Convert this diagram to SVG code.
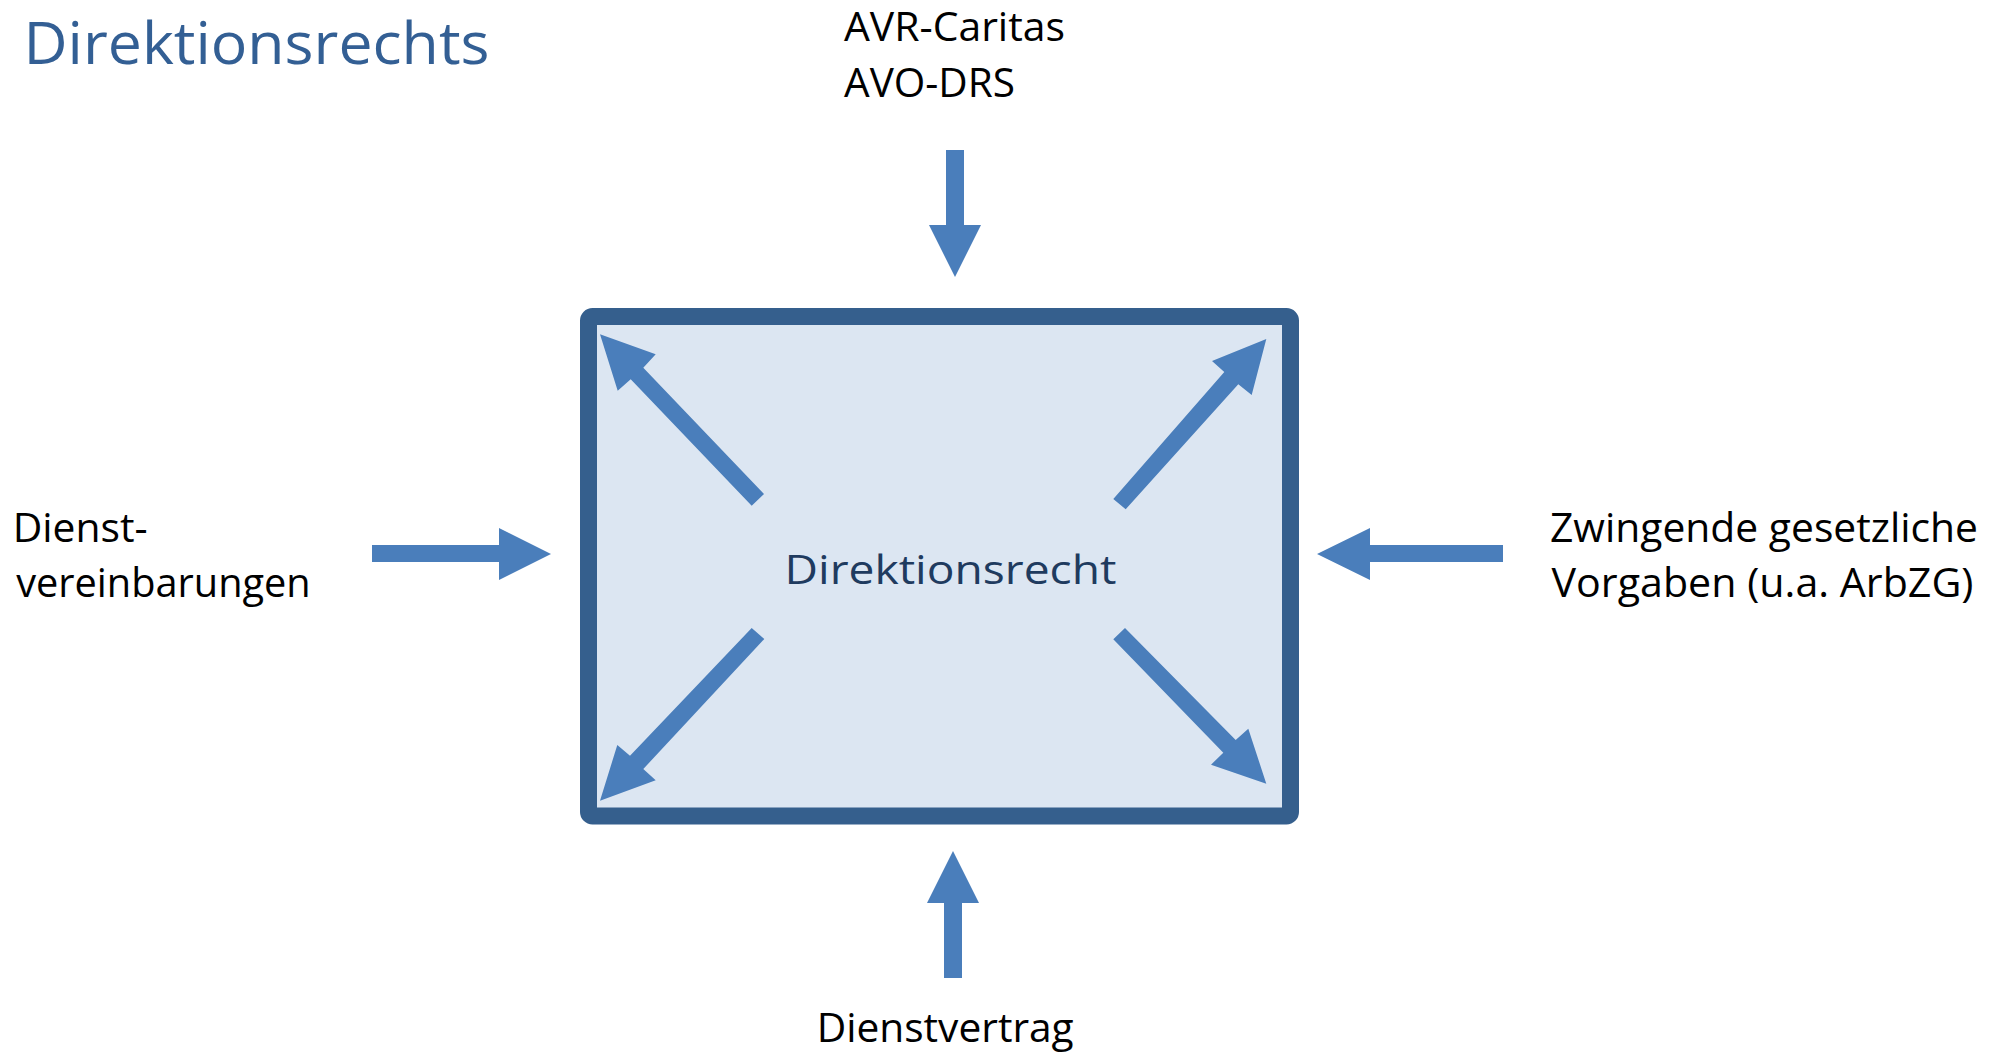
<svg xmlns="http://www.w3.org/2000/svg" width="2004" height="1052" viewBox="0 0 2004 1052">
<style>
.t{font-family:"Open Sans","Noto Sans","Liberation Sans",sans-serif;font-size:41px;fill:#000}
.title{font-family:"Open Sans","Noto Sans","Liberation Sans",sans-serif;font-size:58px;fill:#335f94}
.arr{fill:#4a7ebb}
</style>
<rect width="2004" height="1052" fill="#fff"/>
<text id="title" class="title" x="23.5" y="64" textLength="466" lengthAdjust="spacingAndGlyphs">Direktionsrechts</text>
<g id="center">
<rect x="588.5" y="316.5" width="702" height="499.5" rx="4" fill="#dce6f2" stroke="#355f8d" stroke-width="17"/>
<text class="t" x="784.5" y="583.5" style="fill:#1f3b5f" textLength="332" lengthAdjust="spacingAndGlyphs">Direktionsrecht</text>
</g>
<g id="top">
<text class="t" x="844" y="41" textLength="221" lengthAdjust="spacingAndGlyphs">AVR-Caritas</text>
<text class="t" x="844" y="97" textLength="171" lengthAdjust="spacingAndGlyphs">AVO-DRS</text>
</g>
<g id="left">
<text class="t" x="12.7" y="541.7" textLength="135" lengthAdjust="spacingAndGlyphs">Dienst-</text>
<text class="t" x="16.2" y="596.7" textLength="294.5" lengthAdjust="spacingAndGlyphs">vereinbarungen</text>
</g>
<g id="right">
<text class="t" x="1550" y="542" textLength="428" lengthAdjust="spacingAndGlyphs">Zwingende gesetzliche</text>
<text class="t" x="1551.5" y="597" textLength="422" lengthAdjust="spacingAndGlyphs">Vorgaben (u.a. ArbZG)</text>
</g>
<g id="bottom">
<text class="t" x="816.7" y="1042" textLength="257" lengthAdjust="spacingAndGlyphs">Dienstvertrag</text>
</g>
<g id="connectors">
<polygon class="arr" points="946,150 964,150 964,225 981,225 955,277 929,225 946,225"/>
<polygon class="arr" points="944,978 962,978 962,903 979,903 953,851 927,903 944,903"/>
<polygon class="arr" points="372,545 499,545 499,528 551,554 499,580 499,562 372,562"/>
<polygon class="arr" points="1503,545 1370,545 1370,528 1317,554 1370,580 1370,562 1503,562"/>
<polygon class="arr" points="764,494 751.7,505.7 630.7,379.3 617.7,390.7 600,334.3 655.7,354.3 643.3,367.7"/>
<polygon class="arr" points="1113.3,499 1125.7,509.3 1238.3,384.3 1251.7,395 1266.3,339 1212,361 1224.3,372"/>
<polygon class="arr" points="751.7,628 764.3,639 643.3,769 655.7,780.3 600,800.7 617.3,745 630,755.7"/>
<polygon class="arr" points="1125,628 1113.3,639.3 1223.3,752.7 1211,764.7 1266.3,783.7 1248.3,728.7 1235.7,740"/>
</g>
</svg>
